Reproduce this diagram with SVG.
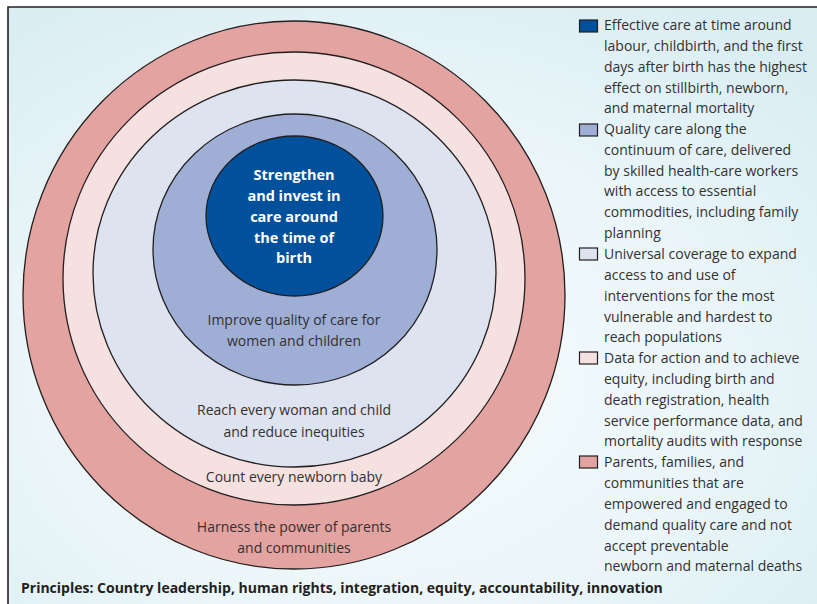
<svg xmlns="http://www.w3.org/2000/svg" width="817" height="604" viewBox="0 0 817 604">
  <defs>
    <radialGradient id="bg" cx="0.45" cy="0.62" r="0.75">
      <stop offset="0" stop-color="#F6FBFC"/>
      <stop offset="0.55" stop-color="#EBF6F9"/>
      <stop offset="1" stop-color="#D9EDF2"/>
    </radialGradient>
  </defs>
  <style>
    .ring { stroke: #231F20; stroke-width: 1.3; }
    .lbl { font-family: "Open Sans", "Noto Sans", sans-serif; font-size: 14px; fill: #333132; text-anchor: middle; }
    .core { font-family: "Open Sans", "Noto Sans", sans-serif; font-size: 14.5px; font-weight: bold; fill: #FFFFFF; text-anchor: middle; }
    .leg { font-family: "Open Sans", "Noto Sans", sans-serif; font-size: 14px; fill: #333132; }
    .sw { stroke: #231F20; stroke-width: 1.2; }
    .pr { font-family: "Open Sans", "Noto Sans", sans-serif; font-size: 14px; font-weight: bold; fill: #231F20; }
    .c1 { fill: #00509B; }
    .c2 { fill: #9FAED5; }
    .c3 { fill: #DDE3EF; }
    .c4 { fill: #F5E1E0; }
    .c5 { fill: #E3A3A1; }
  </style>
  <rect x="0" y="0" width="817" height="604" fill="#FFFFFF"/>
  <rect x="8" y="7" width="809" height="597" fill="url(#bg)"/>
  <path d="M8 604 V7 H817" fill="none" stroke="#231F20" stroke-width="1.6"/>

  <g id="ring-parents">
    <ellipse class="ring c5" cx="294" cy="295" rx="271" ry="274"/>
    <text class="lbl" x="294" y="532">Harness the power of parents</text>
    <text class="lbl" x="294" y="553">and communities</text>
  </g>
  <g id="ring-count">
    <ellipse class="ring c4" cx="294" cy="278.5" rx="231" ry="226.5"/>
    <text class="lbl" x="294" y="482">Count every newborn baby</text>
  </g>
  <g id="ring-reach">
    <ellipse class="ring c3" cx="294.5" cy="273.5" rx="201.5" ry="193.5"/>
    <text class="lbl" x="294" y="415">Reach every woman and child</text>
    <text class="lbl" x="294" y="437">and reduce inequities</text>
  </g>
  <g id="ring-quality">
    <ellipse class="ring c2" cx="295" cy="249.5" rx="142" ry="135.5"/>
    <text class="lbl" x="294" y="325">Improve quality of care for</text>
    <text class="lbl" x="294" y="346">women and children</text>
  </g>
  <g id="core-birth">
    <ellipse class="ring c1" cx="294.5" cy="216" rx="88.5" ry="80"/>
    <text class="core" x="294" y="180">Strengthen</text>
    <text class="core" x="294" y="201">and invest in</text>
    <text class="core" x="294" y="222">care around</text>
    <text class="core" x="294" y="243">the time of</text>
    <text class="core" x="294" y="263">birth</text>
  </g>

  <g id="legend">
    <g id="legend-1">
      <rect class="sw c1" x="579.5" y="20" width="18" height="12"/>
      <text class="leg" x="604" y="30">Effective care at time around</text>
      <text class="leg" x="604" y="51">labour, childbirth, and the first</text>
      <text class="leg" x="604" y="72">days after birth has the highest</text>
      <text class="leg" x="604" y="93">effect on stillbirth, newborn,</text>
      <text class="leg" x="604" y="113">and maternal mortality</text>
    </g>
    <g id="legend-2">
      <rect class="sw c2" x="579.5" y="124" width="18" height="12"/>
      <text class="leg" x="604" y="134">Quality care along the</text>
      <text class="leg" x="604" y="155">continuum of care, delivered</text>
      <text class="leg" x="604" y="176">by skilled health-care workers</text>
      <text class="leg" x="604" y="196">with access to essential</text>
      <text class="leg" x="604" y="217">commodities, including family</text>
      <text class="leg" x="604" y="238">planning</text>
    </g>
    <g id="legend-3">
      <rect class="sw c3" x="579.5" y="248" width="18" height="12"/>
      <text class="leg" x="604" y="259">Universal coverage to expand</text>
      <text class="leg" x="604" y="280">access to and use of</text>
      <text class="leg" x="604" y="301">interventions for the most</text>
      <text class="leg" x="604" y="322">vulnerable and hardest to</text>
      <text class="leg" x="604" y="342">reach populations</text>
    </g>
    <g id="legend-4">
      <rect class="sw c4" x="579.5" y="352" width="18" height="12"/>
      <text class="leg" x="604" y="363">Data for action and to achieve</text>
      <text class="leg" x="604" y="384">equity, including birth and</text>
      <text class="leg" x="604" y="405">death registration, health</text>
      <text class="leg" x="604" y="426">service performance data, and</text>
      <text class="leg" x="604" y="446">mortality audits with response</text>
    </g>
    <g id="legend-5">
      <rect class="sw c5" x="579.5" y="456" width="18" height="12"/>
      <text class="leg" x="604" y="467">Parents, families, and</text>
      <text class="leg" x="604" y="488">communities that are</text>
      <text class="leg" x="604" y="509">empowered and engaged to</text>
      <text class="leg" x="604" y="530">demand quality care and not</text>
      <text class="leg" x="604" y="551">accept preventable</text>
      <text class="leg" x="604" y="571">newborn and maternal deaths</text>
    </g>
  </g>

  <g id="connectors"></g>

  <text class="pr" x="21" y="593">Principles: Country leadership, human rights, integration, equity, accountability, innovation</text>
</svg>
